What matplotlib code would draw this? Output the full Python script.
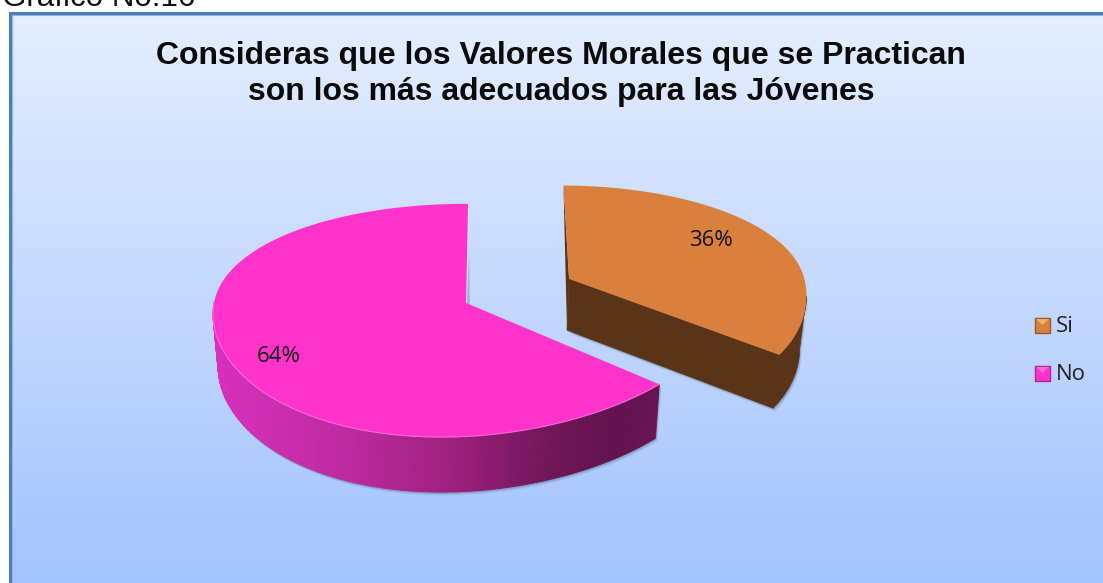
import numpy as np
import matplotlib
matplotlib.use('Agg')
import matplotlib.pyplot as plt
from matplotlib.collections import PolyCollection
from matplotlib.colors import to_rgb
from matplotlib.patches import Polygon, Rectangle

# Values
labels = ['Si', 'No']
values = [36, 64]
pct_labels = ['36%', '64%']
title = 'Consideras que los Valores Morales que se Practican\nson los más adecuados para las Jóvenes'
caption = 'Gráfico No.16'

W, H = 1103, 583

# pie geometry, in pixels
cx, cy = 466, 303
rx, ry = 252, 114
kx, ky = 0.08, 0.15
explode = 0.47  # Si slice pulled out
start = 0.5

wall_stops = [(215, '#d830bc'), (350, '#bd2aa0'), (450, '#a02080'), (550, '#701757'), (620, '#62124f'), (665, '#6a1553')]


def project(u, v, lower=False):
    u = np.asarray(u, dtype=float)
    v = np.asarray(v, dtype=float)
    x = rx * u / (1 + kx * v)
    y = cy - ry * v / (1 + ky * v)
    if lower:
        x = x * 0.98
        y = y + 52 - 3 * v
    return cx + x, y


def wall_color(x):
    xs = [s[0] for s in wall_stops]
    rgb = np.array([to_rgb(s[1]) for s in wall_stops])
    return [np.interp(x, xs, rgb[:, i]) for i in range(3)]


def arc(a0, a1, scale=1.0, lean=0.0, n=240):
    # angles in degrees, clockwise from 12 o'clock
    t = np.radians(np.linspace(a0, a1, n))
    u, v = np.sin(t), np.cos(t)
    # the reference ellipse is skewed on its front half
    return scale * u + lean * np.minimum(v, 0) ** 2, v


def shadow(ax, xs, ys):
    for off, alpha in [(3.5, 0.07), (2.5, 0.12), (1.5, 0.18)]:
        ax.add_patch(Polygon(np.c_[xs + off * 0.6, ys + off], closed=True, fc='#30405a', ec='none', alpha=alpha, zorder=2))


fig = plt.figure(figsize=(W / 100, H / 100), dpi=100, facecolor='white')
ax = fig.add_axes([0, 0, 1, 1])
ax.set_xlim(0, W)
ax.set_ylim(H, 0)
ax.axis('off')

# background gradient
grad = np.linspace(0, 1, 300)[:, None]
top_c = np.array(to_rgb('#e4eeff'))
bot_c = np.array(to_rgb('#a4c3fe'))
img = (top_c + (bot_c - top_c) * grad)[:, None, :]
ax.imshow(img, extent=[9, W, H, 13], aspect='auto', zorder=0)
ax.set_xlim(0, W)
ax.set_ylim(H, 0)
ax.plot([9.5, 9.5, W + 5], [H + 5, 13, 13], color='#4a7ebb', lw=2.2, solid_joinstyle='miter', zorder=1)
ax.plot([11.5, 11.5, W + 5], [H + 5, 15, 15], color='#8fb2e0', lw=0.8, zorder=1)

shares = np.array(values) / sum(values) * 360
si_a0, si_a1 = start, start + shares[0]
no_a0, no_a1 = si_a1, si_a1 + shares[1]

# No slice
u, v = arc(no_a0, no_a1, lean=-0.09)
front = v < 0.02
tx, ty = project(u, v)
bx, by = project(u, v, lower=True)
fx, fy = tx[front], ty[front]
gx, gy = bx[front], by[front]
shadow(ax, np.r_[fx, gx[::-1]], np.r_[fy, gy[::-1]])
shadow(ax, np.r_[cx, tx[-1], tx[-1]], np.r_[cy, ty[-1] + 45, cy])
quads = [[(fx[i], fy[i]), (fx[i + 1], fy[i + 1]), (gx[i + 1], gy[i + 1]), (gx[i], gy[i])] for i in range(len(fx) - 1)]
cols = [wall_color(q[0][0]) for q in quads]
ax.add_collection(PolyCollection(quads, facecolors=cols, edgecolors=cols, linewidths=0.6, zorder=3))
ax.add_patch(Polygon(np.c_[np.r_[cx, tx], np.r_[cy, ty]], closed=True, fc='#ff33cc', ec='none', zorder=4))
# thin highlight along the front rim
ax.plot(fx, fy, color='#ff66dd', lw=0.8, zorder=4)

# Si slice, exploded close to its mid angle
mid = np.radians((si_a0 + si_a1) / 2 - 3)
du, dv = explode * np.sin(mid), explode * np.cos(mid)
u, v = arc(si_a0, si_a1, scale=0.95, lean=0.14)
u = u + du
v = v + dv
tx, ty = project(u, v)
bx, by = project(u, v, lower=True)
ax0, ay0 = project(du, dv)
ax1, ay1 = project(du, dv, lower=True)
right = np.arange(len(tx)) >= np.argmax(tx)
shadow(ax, np.r_[ax1, bx[right][::-1], tx[right]], np.r_[ay1, by[right][::-1], ty[right]])
ax.add_patch(Polygon(np.c_[[ax0, tx[-1], bx[-1], ax1], [ay0, ty[-1], by[-1], ay1]], closed=True, fc='#593418', ec='#593418', lw=0.5, zorder=5))
ax.add_patch(Polygon(np.c_[[tx[0], ax0, ax1], [ty[0], ay0, ay1]], closed=True, fc='#593418', ec='none', zorder=5))
ax.add_patch(Polygon(np.c_[np.r_[tx[right], bx[right][::-1]], np.r_[ty[right], by[right][::-1]]], closed=True, fc='#593418', ec='#593418', lw=0.5, zorder=5))
ax.add_patch(Polygon(np.c_[np.r_[ax0, tx], np.r_[ay0, ty]], closed=True, fc='#d9803e', ec='none', zorder=6))

# percent labels
ax.text(711, 240, pct_labels[0], fontsize=16, family='Open Sans', color='#111111', ha='center', va='center', zorder=7)
ax.text(279, 357, pct_labels[1], fontsize=16, family='Open Sans', color='#111111', ha='center', va='center', zorder=7)

# title and caption
ax.text(561, 74, title, fontsize=23, fontweight='bold', family='Liberation Sans', color='#0a0a0a',
        ha='center', va='center', linespacing=1.24, zorder=7)
ax.text(2, 6, caption, fontsize=22.5, family='Liberation Sans', color='#111111', ha='left', va='baseline', zorder=7)

# legend
key_colors = ['#d9803e', '#ff33cc']
key_dark = ['#9a5a28', '#b02590']
key_light = ['#f0b060', '#ff66dd']
for i, name in enumerate(labels):
    ly = 325 + 48 * i
    ax.add_patch(Rectangle((1035, ly - 7), 15, 15, fc=key_colors[i], ec=key_dark[i], lw=1, zorder=7))
    ax.add_patch(Polygon([(1036, ly - 6), (1049, ly - 6), (1042.5, ly)], closed=True, fc=key_light[i], ec='none', zorder=8))
    ax.text(1056, ly + 2, name, fontsize=16, family='Open Sans', color='#222222', ha='left', va='center', zorder=7)

fig.savefig('out.png', dpi=100)
